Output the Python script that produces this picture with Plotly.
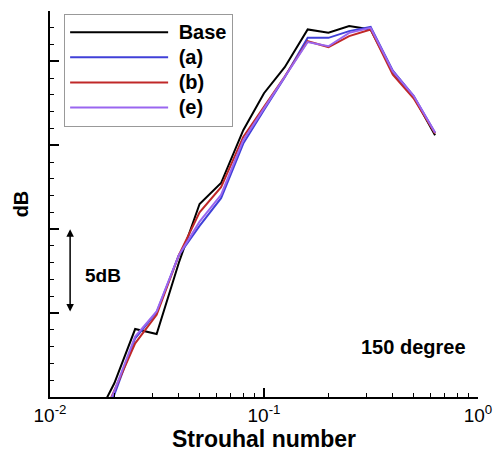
import plotly.graph_objects as go

strouhal = [0.016, 0.02, 0.025, 0.0315, 0.04, 0.05, 0.063, 0.08, 0.1, 0.125,
            0.16, 0.2, 0.25, 0.315, 0.4, 0.5, 0.63]
base_db = [-1.6, 0.83, 4.05, 3.75, 8.0, 11.5, 12.75, 15.9, 18.1, 19.65,
           21.9, 21.7, 22.1, 21.9, 19.35, 17.9, 15.6]
a_db = [-3.0, 0.15, 3.5, 5.05, 8.45, 10.2, 11.85, 15.1, 17.1, 19.05,
        21.4, 21.4, 21.8, 22.05, 19.45, 17.95, 15.75]
b_db = [-2.4, 0.42, 3.2, 4.9, 8.45, 11.0, 12.5, 15.5, 17.3, 19.1,
        21.2, 20.85, 21.5, 21.9, 19.2, 17.8, 15.7]
e_db = [-2.6, 0.36, 3.6, 5.1, 8.45, 10.45, 12.05, 15.3, 17.2, 19.05,
        21.15, 20.9, 21.7, 22.0, 19.4, 17.95, 15.75]

series = [
    ("Base", base_db, "#000000"),
    ("(a)", a_db, "#4040d8"),
    ("(b)", b_db, "#c02828"),
    ("(e)", e_db, "#9a66f0"),
]

x_tick_vals = [0.01, 0.1, 1]
x_tick_text = ["10<sup>-2</sup>", "10<sup>-1</sup>", "10<sup>0</sup>"]
x_minor_vals = [m * d for d in (0.01, 0.1) for m in range(2, 10)]

FONT = "Liberation Sans, Arial, sans-serif"

fig = go.Figure()
for name, vals, color in series:
    fig.add_trace(go.Scatter(x=strouhal, y=vals, mode="lines",
                             name='<span style="font-size:20px">\u00a0' + name + '</span>',
                             line=dict(color=color, width=2)))

# page body has an 8px margin: figure is sized/offset to compensate
fig.update_layout(
    width=496, height=446,
    margin=dict(l=42, r=26, t=3, b=57, autoexpand=False),
    paper_bgcolor="white", plot_bgcolor="white",
    font=dict(family=FONT, size=19, color="black"),
    showlegend=True,
    legend=dict(x=0.033, y=0.993, xanchor="left", yanchor="top",
                bordercolor="#999999", borderwidth=1, bgcolor="white",
                itemwidth=98,
                font=dict(family=FONT, size=17, color="black", weight="bold")),
    xaxis=dict(type="log", range=[-2, 0], automargin=False,
               tickmode="array", tickvals=x_tick_vals, ticktext=x_tick_text,
               showline=True, linecolor="black", linewidth=2,
               ticks="inside", ticklen=9, tickwidth=2, tickcolor="black",
               minor=dict(tickmode="array", tickvals=x_minor_vals,
                          ticks="inside", ticklen=4, tickwidth=1,
                          tickcolor="black", showgrid=False),
               showgrid=False, zeroline=False,
               tickfont=dict(family=FONT, size=19),
               title=dict(text="Strouhal number", standoff=4,
                          font=dict(family=FONT, size=23, weight="bold"))),
    yaxis=dict(range=[0, 23], dtick=5, showticklabels=False, automargin=False,
               showline=True, linecolor="black", linewidth=2,
               ticks="inside", ticklen=9, tickwidth=2, tickcolor="black",
               minor=dict(dtick=1, ticks="inside", ticklen=4, tickwidth=1,
                          tickcolor="black", showgrid=False),
               showgrid=False, zeroline=False,
               title=dict(text="dB", standoff=14,
                          font=dict(family=FONT, size=20, weight="bold"))),
)

fig.add_annotation(x=-1.906, y=10, ax=-1.906, ay=5, xref="x", yref="y",
                   axref="x", ayref="y", text="", showarrow=True,
                   arrowhead=2, arrowside="end+start", arrowwidth=1.5,
                   arrowcolor="black", arrowsize=1)
fig.add_annotation(x=0.124, y=0.316, xref="paper", yref="paper",
                   xanchor="center", yanchor="middle",
                   text="5dB", showarrow=False,
                   font=dict(family=FONT, size=19, weight="bold"))
fig.add_annotation(x=0.85, y=0.13, xref="paper", yref="paper",
                   xanchor="center", yanchor="middle",
                   text="150 degree", showarrow=False,
                   font=dict(family=FONT, size=20, weight="bold"))

fig.write_html("out.html")
